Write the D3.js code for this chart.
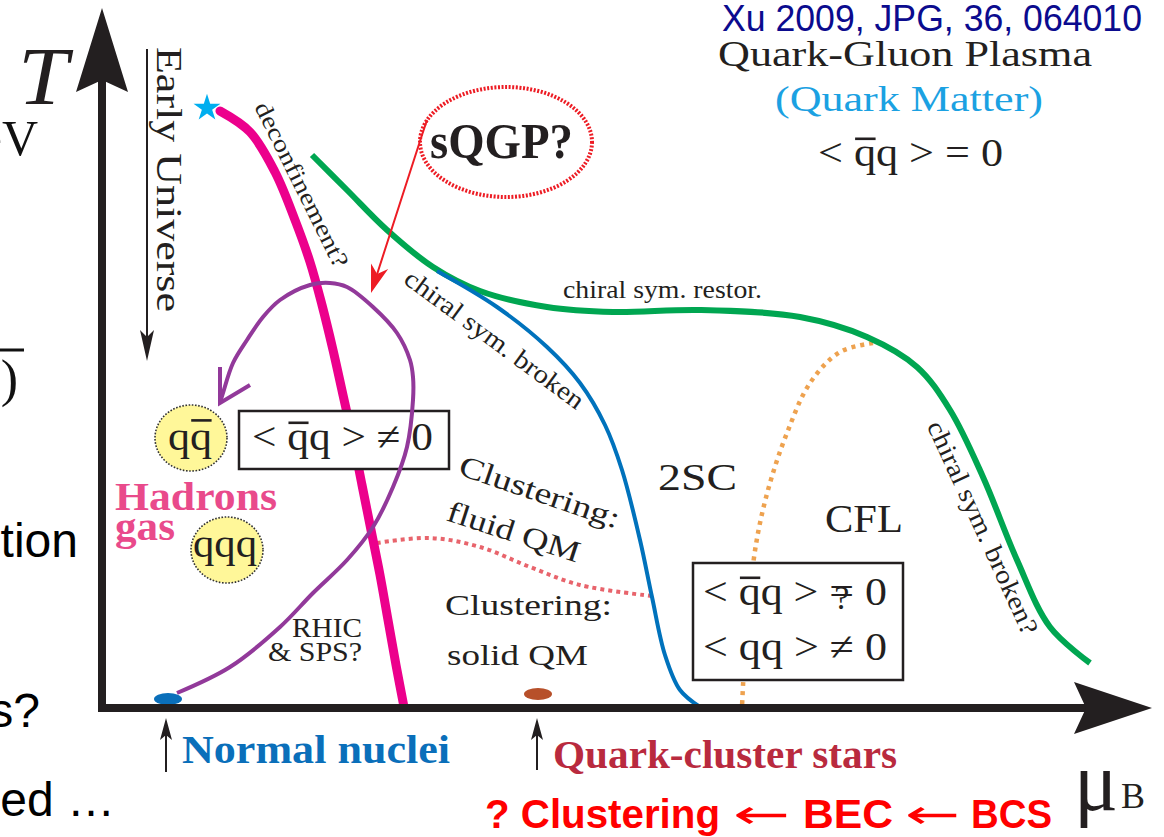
<!DOCTYPE html>
<html><head><meta charset="utf-8">
<script src="https://cdn.jsdelivr.net/npm/d3@7"></script>
<style>html,body{margin:0;padding:0;background:#fff;overflow:hidden}</style>
</head><body>
<svg id="c" width="1164" height="837"></svg>
<script>
// ---- data, in diagram units: baryon chemical potential muB (0..1048) and temperature T (0..700)
const deconfinement = [[118,597],[148,576],[173,536],[193,488],[208,446],[220,403],[231,358],[241,313],[251,268],[260,223],[269,178],[278,133],[286,88],[294,43],[302,1]];
const chiralRestoration = [[210,553],[245,518],[285,478],[331,441],[378,417],[445,401],[511,396],[598,398],[698,391],[765,371],[815,341],[848,298],[881,231],[915,148],[948,81],[988,45]];
const chiralBroken = [[335,437],[395,401],[445,361],[478,325],[503,283],[520,238],[538,168],[550,111],[563,53],[578,18],[598,1]];
const cflBoundary = [[771,365],[738,356],[708,325],[685,275],[668,225],[656,175],[648,118],[643,58],[640,1]];
const fluidSolidBoundary = [[275,165],[328,170],[378,161],[428,141],[478,123],[550,112]];
const rhicPath = [[75,15],[128,41],[178,81],[211,115],[245,148],[271,181],[291,221],[305,261],[311,308],[311,331],[308,348],[295,375],[271,401],[245,421],[228,425],[208,423],[178,408],[161,391],[145,368],[131,345],[121,315],[118,305]];
const rhicArrowArms = [[118,341],[118,305],[148,323]];
const sqgpArrow = [[325,588],[319,570],[269,415]];
const sqgpCenter = [404,566];
const earlyUniversePoint = [105,600];
const normalNucleiPoint = [66,9];
const quarkStarPoint = [436,14];

const SERIF = "'Liberation Serif','Times New Roman',serif";
const SANS = "'Liberation Sans',Arial,sans-serif";
const INK = "#231f20";

const svg = d3.select("#c");
svg.append("rect").attr("width",1164).attr("height",837).attr("fill","#fff");

const X = d3.scaleLinear().domain([0,1048]).range([102,1150]);
const Y = d3.scaleLinear().domain([0,700]).range([708,8]);
const smooth = d3.line().x(d=>X(d[0])).y(d=>Y(d[1])).curve(d3.curveCatmullRom.alpha(0.5));
const straight = d3.line().x(d=>X(d[0])).y(d=>Y(d[1]));

function curve(data, color, w, dash, cap) {
  const p = svg.append("path").attr("d", smooth(data)).attr("fill","none")
    .attr("stroke", color).attr("stroke-width", w).attr("stroke-linecap", cap||"butt");
  if (dash) p.attr("stroke-dasharray", dash);
  return p;
}
function T(s, o) {
  const t = svg.append("text").text(s)
    .attr("font-family", o.ff||SERIF).attr("font-size", o.fs).attr("fill", o.fill||INK);
  if (o.fw) t.attr("font-weight", o.fw);
  if (o.it) t.attr("font-style","italic");
  if (o.rot!==undefined) {
    t.attr("transform",`translate(${o.x},${o.y}) rotate(${o.rot})`)
     .attr("text-anchor", o.anchor||"middle").attr("dy", o.dy!==undefined?o.dy:"0.3em");
  } else {
    t.attr("x",o.x).attr("y",o.y).attr("text-anchor",o.anchor||"start");
  }
  if (o.len) t.attr("textLength",o.len).attr("lengthAdjust","spacingAndGlyphs");
  return t;
}
function bar(t, idx, fs, k) {
  const n = t.node();
  const a = n.getStartPositionOfChar(idx), b = n.getEndPositionOfChar(idx);
  const yb = a.y - (k||0.68)*fs;
  svg.append("line").attr("x1",a.x+fs*0.03).attr("x2",b.x-fs*0.01)
    .attr("y1",yb).attr("y2",yb).attr("stroke",INK).attr("stroke-width",fs*0.065);
}

// ---- boundaries
curve(fluidSolidBoundary, "#e8646c", 4, "4,4");
curve(cflBoundary, "#eea24f", 4.5, "4,5");
curve(chiralRestoration, "#00a651", 6);
curve(chiralBroken, "#0072bc", 4);
curve(deconfinement, "#ec008c", 9, null, "round");

// ---- boxes
svg.append("rect").attr("x",239).attr("y",411).attr("width",210).attr("height",58)
  .attr("fill","#fff").attr("stroke",INK).attr("stroke-width",2.5);
svg.append("rect").attr("x",693).attr("y",563).attr("width",210).attr("height",117)
  .attr("fill","#fff").attr("stroke",INK).attr("stroke-width",2.5);

// ---- RHIC trajectory
curve(rhicPath, "#92399a", 4);
svg.append("path").attr("d", straight(rhicArrowArms)).attr("fill","none")
  .attr("stroke","#92399a").attr("stroke-width",4).attr("stroke-linejoin","miter");

// ---- sQGP
svg.append("ellipse").attr("cx",X(sqgpCenter[0])).attr("cy",Y(sqgpCenter[1])).attr("rx",86).attr("ry",55)
  .attr("fill","none").attr("stroke","#ed1c24").attr("stroke-width",4).attr("stroke-dasharray","2,1.6");
{
  const pts = sqgpArrow.map(d=>[X(d[0]),Y(d[1])]);
  const [px,py] = pts[pts.length-2], [tx,ty] = pts[pts.length-1];
  const L = Math.hypot(tx-px, ty-py), ux=(tx-px)/L, uy=(ty-py)/L;
  const hl=28, hw=9;
  const bx=tx-ux*hl, by=ty-uy*hl;
  const shaft = pts.slice(0,-1).concat([[tx-ux*20, ty-uy*20]]);
  svg.append("path").attr("d", d3.line()(shaft)).attr("fill","none").attr("stroke","#ed1c24").attr("stroke-width",2);
  svg.append("path").attr("d",`M${tx},${ty}L${bx-uy*hw},${by+ux*hw}L${tx-ux*20},${ty-uy*20}L${bx+uy*hw},${by-ux*hw}Z`).attr("fill","#ed1c24");
}

// ---- points
svg.append("path").attr("d", d3.symbol(d3.symbolStar, 225)())
  .attr("transform",`translate(${X(earlyUniversePoint[0])},${Y(earlyUniversePoint[1])})`).attr("fill","#00aeef");
svg.append("ellipse").attr("cx",X(normalNucleiPoint[0])).attr("cy",Y(normalNucleiPoint[1])).attr("rx",14).attr("ry",6).attr("fill","#0a6fba");
svg.append("ellipse").attr("cx",X(quarkStarPoint[0])).attr("cy",Y(quarkStarPoint[1])).attr("rx",14).attr("ry",6).attr("fill","#b7502a");

// ---- yellow hadron bubbles
[[191,438],[227,550]].forEach(c=>{
  svg.append("ellipse").attr("cx",c[0]).attr("cy",c[1]).attr("rx",36).attr("ry",33)
    .attr("fill","#fff799").attr("stroke","#333").attr("stroke-width",1.6).attr("stroke-dasharray","1.6,1.6");
});

// ---- axes
const ax = X(0), ay = Y(0);
svg.append("line").attr("x1",ax).attr("x2",ax).attr("y1",ay+4).attr("y2",80).attr("stroke",INK).attr("stroke-width",8);
svg.append("path").attr("d",`M${ax},8L${ax+26},92L${ax},80L${ax-26},92Z`).attr("fill",INK);
svg.append("line").attr("x1",ax-4).attr("x2",1090).attr("y1",ay).attr("y2",ay).attr("stroke",INK).attr("stroke-width",8);
svg.append("path").attr("d",`M1152,${ay}L1074,${ay+26}L1086,${ay}L1074,${ay-26}Z`).attr("fill",INK);

// small arrows under axis
function upArrow(xp, y0, y1, color) {
  svg.append("line").attr("x1",xp).attr("x2",xp).attr("y1",y1).attr("y2",y0+12).attr("stroke",color).attr("stroke-width",2);
  svg.append("path").attr("d",`M${xp},${y0}L${xp+6},${y0+22}L${xp},${y0+17}L${xp-6},${y0+22}Z`).attr("fill",color);
}
upArrow(X(normalNucleiPoint[0])-2, 718, 772, INK);
upArrow(X(quarkStarPoint[0])-1, 718, 770, INK);
// early universe arrow
svg.append("line").attr("x1",147).attr("x2",147).attr("y1",49).attr("y2",345).attr("stroke",INK).attr("stroke-width",2);
svg.append("path").attr("d","M147,361L140,330L147,337L154,330Z").attr("fill",INK);

// ---- texts
T("T",{x:18,y:104,fs:82,it:true,len:50});
T("\u03bc",{x:1074,y:810,fs:84,len:44});
T("B",{x:1121,y:808,fs:36,len:24});

T("Xu 2009, JPG, 36, 064010",{x:722,y:31,fs:37,ff:SANS,fill:"#0b0b8e",len:420});
T("Quark-Gluon Plasma",{x:718,y:66,fs:36,len:374});
T("(Quark Matter)",{x:775,y:111,fs:36,fill:"#1ba1e2",len:268});
{ const t=T("< qq > = 0",{x:818,y:166,fs:40,len:185}); bar(t,2,40); }

T("sQGP?",{x:430,y:158,fs:50,fw:"bold",len:143});
T("Early Universe",{x:157,y:47,fs:36,rot:90,anchor:"start",dy:0,len:265});
T("deconfinement?",{x:301,y:185,fs:24,rot:63.6,len:182});
T("chiral sym. broken",{x:494,y:340,fs:26,rot:36.3,len:216});
T("chiral sym. restor.",{x:563,y:298,fs:26,len:199});
T("chiral sym. broken?",{x:982,y:528,fs:26,rot:65.4,len:232});

{ const t=T("qq",{x:168,y:450,fs:40,len:44}); bar(t,1,40,0.74); }
T("qqq",{x:193,y:557,fs:40,len:64});
{ const t=T("< qq > \u2260 0",{x:252,y:450,fs:40,len:181}); bar(t,2,40); }

T("Hadrons",{x:115,y:510,fs:40,fw:"bold",fill:"#e94a8b",len:162});
T("gas",{x:115,y:540,fs:40,fw:"bold",fill:"#e94a8b",len:60});

T("Clustering:",{x:457,y:474,fs:30,rot:19,anchor:"start",dy:0,len:168});
T("fluid QM",{x:445,y:520,fs:30,rot:18,anchor:"start",dy:0,len:138});
T("Clustering:",{x:445,y:615,fs:30,len:167});
T("solid QM",{x:447,y:665,fs:30,len:141});
T("RHIC",{x:362,y:637,fs:28,anchor:"end",len:70});
T("& SPS?",{x:362,y:661,fs:28,anchor:"end",len:94});
T("2SC",{x:658,y:490,fs:38,len:79});
T("CFL",{x:825,y:532,fs:40,len:78});

{ const t=T("< qq > = 0",{x:703,y:605,fs:40,len:184}); bar(t,2,40);
  const n=t.node(); const a=n.getStartPositionOfChar(7), b=n.getEndPositionOfChar(7);
  svg.append("text").text("?").attr("x",(a.x+b.x)/2).attr("y",a.y+4).attr("text-anchor","middle")
    .attr("font-family",SERIF).attr("font-size",34).attr("fill",INK);
}
T("< qq > \u2260 0",{x:703,y:660,fs:40,len:184});

T("Normal nuclei",{x:182,y:763,fs:40,fw:"bold",fill:"#0a6fba",len:268});
T("Quark-cluster stars",{x:553,y:768,fs:41,fw:"bold",fill:"#b92a3e",len:344});

// bottom red line, drawn piecewise so the long arrows match
const RED = "#ff0000";
T("? Clustering",{x:485,y:828,fs:40,fw:"bold",ff:SANS,fill:RED,len:235});
T("\u2190",{x:733,y:828,fs:40,ff:"'DejaVu Sans',sans-serif",fill:RED,len:57});
T("BEC",{x:803,y:828,fs:40,fw:"bold",ff:SANS,fill:RED,len:90});
T("\u2190",{x:905,y:828,fs:40,ff:"'DejaVu Sans',sans-serif",fill:RED,len:55});
T("BCS",{x:971,y:828,fs:40,fw:"bold",ff:SANS,fill:RED,len:81});

// clipped slide text at left edge
T("eV",{x:38,y:155,fs:50,anchor:"end",fill:"#111"});
T(")",{x:18,y:396,fs:52,anchor:"end",fill:"#111"});
svg.append("line").attr("x1",0).attr("x2",24).attr("y1",350).attr("y2",350).attr("stroke","#111").attr("stroke-width",3);
T("tion",{x:78,y:557,fs:48,ff:SANS,anchor:"end",fill:"#000"});
T("s?",{x:40,y:727,fs:48,ff:SANS,anchor:"end",fill:"#000"});
T("ed \u2026",{x:115,y:816,fs:48,ff:SANS,anchor:"end",fill:"#000"});
</script>
</body></html>
